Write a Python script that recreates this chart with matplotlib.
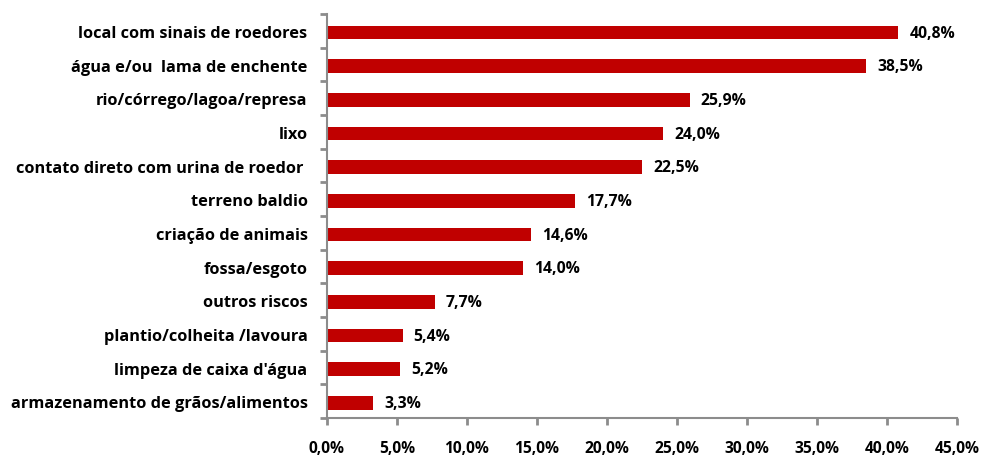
import matplotlib.pyplot as plt
import numpy as np
from matplotlib.ticker import FuncFormatter, FixedLocator

categories = [
    "local com sinais de roedores",
    "água e/ou  lama de enchente",
    "rio/córrego/lagoa/represa",
    "lixo",
    "contato direto com urina de roedor ",
    "terreno baldio",
    "criação de animais",
    "fossa/esgoto",
    "outros riscos",
    "plantio/colheita /lavoura",
    "limpeza de caixa d'água",
    "armazenamento de grãos/alimentos",
]
values = [40.8, 38.5, 25.9, 24.0, 22.5, 17.7, 14.6, 14.0, 7.7, 5.4, 5.2, 3.3]

plt.rcParams['font.family'] = ['Open Sans', 'DejaVu Sans']
plt.rcParams['font.weight'] = 'bold'


def pct(v):
    return f"{v:.1f}%".replace(".", ",")


fig = plt.figure(figsize=(9.81, 4.56), dpi=100)
ax = fig.add_axes([0.3333, 0.0811, 0.6422, 0.886])

y = np.arange(len(categories))
ax.barh(y + 0.05, values, height=0.4, color="#C00000")
ax.set_ylim(len(categories) - 0.5, -0.5)
ax.set_xlim(0, 45)

for yi, v in zip(y, values):
    ax.annotate(pct(v), xy=(v, yi + 0.05), xytext=(8, 0),
                textcoords="offset points", va="center", ha="left",
                fontsize=11.3, fontweight="bold", color="black")

ax.set_yticks(y)
ax.set_yticklabels(categories, fontsize=11.8, fontweight="bold")
ax.yaxis.set_minor_locator(FixedLocator(np.arange(-0.5, len(categories), 1)))
ax.tick_params(axis="y", which="major", length=0, pad=14)
ax.tick_params(axis="y", which="minor", length=5, width=2, color="#8C8C8C")

ax.set_xticks(np.arange(0, 46, 5))
ax.xaxis.set_major_formatter(FuncFormatter(lambda v, p: pct(v)))
ax.tick_params(axis="x", length=5, width=2, color="#8C8C8C", labelsize=11.2, pad=11)
for lab in ax.get_xticklabels():
    lab.set_fontweight("bold")

for s in ["top", "right"]:
    ax.spines[s].set_visible(False)
for s in ["left", "bottom"]:
    ax.spines[s].set_color("#8C8C8C")
    ax.spines[s].set_linewidth(1.5)

fig.savefig("out.png", dpi=100)
